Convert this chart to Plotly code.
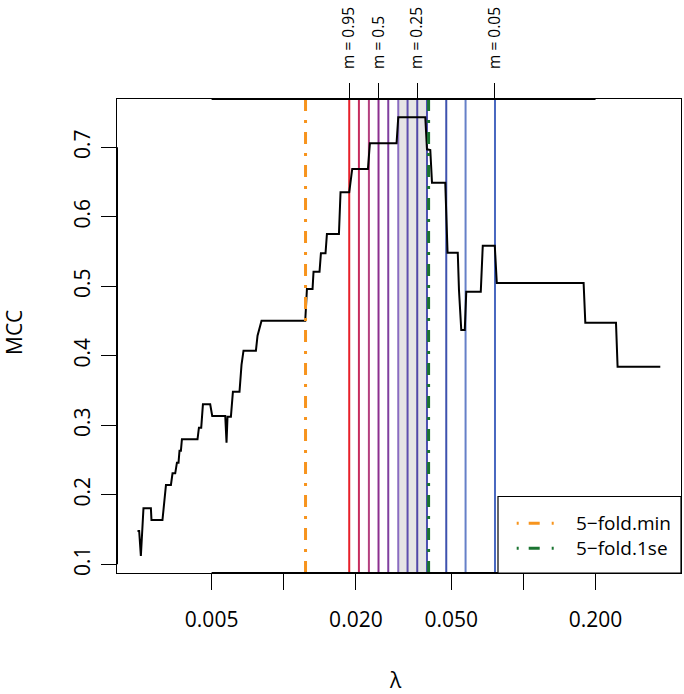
import numpy as np
import plotly.graph_objects as go

# ---------------- data ----------------
lambda_vals = [0.002453, 0.002493, 0.002534, 0.002598, 0.002790, 0.002806, 0.003118, 0.003225,
               0.003382, 0.003435, 0.003525, 0.003583, 0.003638, 0.003673, 0.003723, 0.003759,
               0.004367, 0.004426, 0.004525, 0.004600, 0.004933, 0.005029, 0.005700, 0.005771,
               0.005826, 0.006019, 0.006136, 0.006537, 0.006664, 0.006793, 0.007654, 0.007773,
               0.008078, 0.012292, 0.012494, 0.013186, 0.013313, 0.014101, 0.014292, 0.014938,
               0.015140, 0.016992, 0.017256, 0.018759, 0.019307, 0.022447, 0.022882, 0.029560,
               0.030047, 0.038959, 0.039600, 0.040877, 0.041551, 0.047199, 0.048254, 0.053226,
               0.053844, 0.055047, 0.056930, 0.057756, 0.066387, 0.067676, 0.075965, 0.077440,
               0.17833, 0.18127, 0.24340, 0.24717, 0.37254]
mcc_vals = [0.1479, 0.1479, 0.1119, 0.1806, 0.1806, 0.1637, 0.1637, 0.2141,
            0.2141, 0.2309, 0.2309, 0.2462, 0.2462, 0.2635, 0.2635, 0.2799,
            0.2799, 0.2966, 0.2966, 0.3302, 0.3302, 0.3134, 0.3134, 0.2750,
            0.3124, 0.3124, 0.3484, 0.3484, 0.3868, 0.4073, 0.4073, 0.4289,
            0.4505, 0.4505, 0.4961, 0.4961, 0.5210, 0.5210, 0.5475, 0.5475,
            0.5753, 0.5753, 0.6353, 0.6353, 0.6688, 0.6688, 0.7058, 0.7058,
            0.7432, 0.7432, 0.6971, 0.6961, 0.6491, 0.6491, 0.5484, 0.5484,
            0.4947, 0.4371, 0.4371, 0.4922, 0.4922, 0.5584, 0.5584, 0.5048,
            0.5048, 0.4476, 0.4476, 0.3843, 0.3843]

cut_lambdas = [0.018759, 0.020590, 0.022663, 0.024857, 0.027295, 0.030047,
               0.032855, 0.036060, 0.039600, 0.047653, 0.057369, 0.076112]
cut_colors = ["#e8202a", "#c72c5e", "#b4407f", "#8b2f8f", "#7f3f9f", "#8a6cc0",
              "#5e4fae", "#5148a8", "#4b4fb0", "#3e52ae", "#6680c8", "#4868c0"]
m_labels = ["m = 0.95", "m = 0.5", "m = 0.25", "m = 0.05"]
m_index = [0, 3, 7, 11]
band_index = (5, 8)

lambda_min = 0.012327
lambda_1se = 0.040214
legend_labels = ["5\u2212fold.min", "5\u2212fold.1se"]
orange = "#f7941d"
green = "#1a7431"

x_ticks = [0.005, 0.01, 0.02, 0.05, 0.1, 0.2]
x_ticktext = ["0.005", "", "0.020", "0.050", "", "0.200"]
y_ticks = [0.1, 0.2, 0.3, 0.4, 0.5, 0.6, 0.7]
y_ticktext = ["0.1", "0.2", "0.3", "0.4", "0.5", "0.6", "0.7"]

Y_LO, Y_HI = 0.0875, 0.7695
X_RANGE = [-2.6958, -0.3424]

FONT = "Open Sans"
W, H = 684, 694
ML, MR, MT, MB = 117, 3, 99, 121
PW, PH = W - ML - MR, H - MT - MB

def px2paper_x(px):
    return (px - ML) / PW

def px2paper_y(py):
    return (H - MB - py) / PH

fig = go.Figure()

# shaded band
a, b = cut_lambdas[band_index[0]], cut_lambdas[band_index[1]]
fig.add_trace(go.Scatter(x=[a, b, b, a, a], y=[Y_LO, Y_LO, Y_HI, Y_HI, Y_LO],
                         fill="toself", fillcolor="#e5e5e5", mode="lines",
                         line=dict(width=0), hoverinfo="skip", showlegend=False))

# cut lines
for lam, col in zip(cut_lambdas, cut_colors):
    fig.add_trace(go.Scatter(x=[lam, lam], y=[Y_LO, Y_HI], mode="lines",
                             line=dict(color=col, width=2), hoverinfo="skip", showlegend=False))

# curve
fig.add_trace(go.Scatter(x=lambda_vals, y=mcc_vals, mode="lines",
                         line=dict(color="black", width=2), showlegend=False))

# CV lines
for lam, col in [(lambda_min, orange), (lambda_1se, green)]:
    fig.add_trace(go.Scatter(x=[lam, lam], y=[Y_LO, Y_HI], mode="lines",
                             line=dict(color=col, width=3, dash="12px,9px,3px,9px"),
                             hoverinfo="skip", showlegend=False))

# axis line segments (R style axis lines over the box)
xl = 10 ** X_RANGE[0]
fig.add_trace(go.Scatter(x=[x_ticks[0], x_ticks[-1]], y=[Y_LO, Y_LO], mode="lines",
                         line=dict(color="black", width=2), hoverinfo="skip", showlegend=False))
fig.add_trace(go.Scatter(x=[x_ticks[0], x_ticks[-1]], y=[Y_HI, Y_HI], mode="lines",
                         line=dict(color="black", width=2), hoverinfo="skip", showlegend=False))
fig.add_trace(go.Scatter(x=[xl, xl], y=[y_ticks[0], y_ticks[-1]], mode="lines",
                         line=dict(color="black", width=2), hoverinfo="skip", showlegend=False))

# dummy trace for top axis
m_lams = [cut_lambdas[i] for i in m_index]
fig.add_trace(go.Scatter(x=m_lams, y=[0.5] * len(m_lams), xaxis="x2", mode="markers",
                         marker=dict(opacity=0), hoverinfo="skip", showlegend=False))

tickfont = dict(family=FONT, size=21, color="black")

fig.update_layout(
    width=W, height=H,
    margin=dict(l=ML, r=MR, t=MT, b=MB, autoexpand=False),
    paper_bgcolor="white", plot_bgcolor="white",
    font=dict(family=FONT, color="black"),
    xaxis=dict(type="log", range=X_RANGE, tickvals=x_ticks, ticktext=x_ticktext,
               ticks="outside", ticklen=16, tickwidth=1.3, tickcolor="black",
               tickfont=tickfont, ticklabelstandoff=12,
               showgrid=False, zeroline=False, showline=True, linecolor="black",
               linewidth=1.2, mirror=True),
    xaxis2=dict(type="log", range=X_RANGE, overlaying="x", side="top", anchor="y",
                tickvals=m_lams, ticktext=m_labels, tickangle=-90,
                ticks="outside", ticklen=15, tickwidth=1.3, tickcolor="black",
                tickfont=dict(family=FONT, size=15.5, color="black"), ticklabelstandoff=11,
                showgrid=False, zeroline=False, showline=False),
    yaxis=dict(range=[Y_LO, Y_HI], tickvals=y_ticks, ticktext=y_ticktext, tickangle=-90,
               ticks="outside", ticklen=15, tickwidth=1.3, tickcolor="black",
               tickfont=tickfont, ticklabelstandoff=3,
               showgrid=False, zeroline=False, showline=True, linecolor="black",
               linewidth=1.2, mirror=True),
)

annotations = [
    dict(text="MCC", xref="paper", yref="paper", x=0, xshift=-(ML - 14), y=px2paper_y(333),
         textangle=-90, showarrow=False, xanchor="center", yanchor="middle",
         font=dict(family=FONT, size=21, color="black")),
    dict(text="\u03bb", xref="paper", yref="paper", x=px2paper_x(395), y=0, yshift=-91,
         showarrow=False, xanchor="center", yanchor="top",
         font=dict(family=FONT, size=21, color="black")),
]

# legend (bottom right, R style)
shapes = [dict(type="rect", xref="paper", yref="paper", x0=px2paper_x(498), x1=1.0,
               y0=0, y1=px2paper_y(496.5), line=dict(color="black", width=1.2),
               fillcolor="white", layer="above")]
for lab, col, py in [(legend_labels[0], orange, 523.3), (legend_labels[1], green, 548.3)]:
    shapes.append(dict(type="line", xref="paper", yref="paper",
                       x0=px2paper_x(516.7), x1=px2paper_x(553.7),
                       y0=px2paper_y(py), y1=px2paper_y(py),
                       line=dict(color=col, width=3, dash="2px,10px,11px,12px"), layer="above"))
    annotations.append(dict(text=lab, xref="paper", yref="paper", x=px2paper_x(574),
                            y=px2paper_y(py), showarrow=False, xanchor="left", yanchor="middle",
                            font=dict(family=FONT, size=19, color="black")))

fig.update_layout(annotations=annotations, shapes=shapes)

fig.write_html("out.html")
